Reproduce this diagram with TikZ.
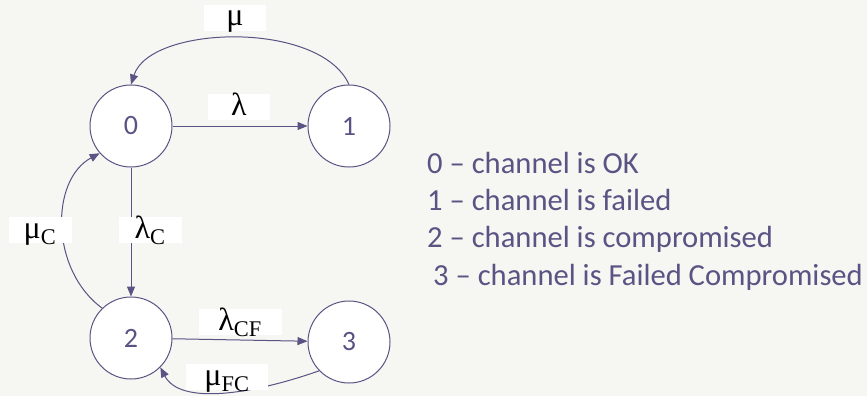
\documentclass[tikz,border=0pt]{standalone}
\usepackage{fontspec}
\setmainfont{Carlito}
\newfontfamily\greekserif{Liberation Serif}
\usetikzlibrary{arrows.meta}
\definecolor{bgc}{HTML}{F6F6F2}
\definecolor{ink}{HTML}{5A5383}
\tikzset{
  state/.style={circle, draw=ink, fill=white, line width=1pt, minimum size=82pt, inner sep=0pt, text=ink, font=\fontsize{28}{28}\selectfont},
  edge/.style={draw=ink, line width=1pt, -{Triangle[length=10pt,width=8pt]}},
  lab/.style={fill=white, inner sep=0pt, text height=21pt, text depth=5pt, text=black, font=\greekserif\fontsize{32}{32}\selectfont},
  legend/.style={anchor=base west, text=ink, inner sep=0pt, font=\fontsize{30.6}{31}\selectfont}
}
\begin{document}
\begin{tikzpicture}[x=1pt,y=-1pt]
\useasboundingbox[fill=bgc] (0,0) rectangle (867,396);
\node[state] (n0) at (131,126) {0};
\node[state] (n1) at (349,126) {1};
\node[state] (n2) at (131,338) {2};
\node[state] (n3) at (349,342) {3};

\draw[edge] (n0) -- (n1);
\draw[edge] (n1.north) .. controls (320,20) and (150,25) .. (n0.north);
\draw[edge] (n0) -- (n2);
\draw[edge] (n2.134) .. controls (50,270) and (50,180) .. (n0.221);
\draw[edge] (n2) -- (n3);
\draw[edge] (n3.224) .. controls (250,395) and (180,405) .. (n2.315);

\node[lab, minimum width=62pt] (lmu) at (235,18) {μ};
\node[lab, minimum width=62pt] (llam) at (239,107) {λ};
\node[lab, minimum width=63pt] (llamc) at (150,230) {λ\textsubscript{C}};
\node[lab, minimum width=63pt] (lmuc) at (40,230) {μ\textsubscript{C}};
\node[lab, minimum width=83pt] (llamcf) at (240,322) {λ\textsubscript{CF}};
\node[lab, minimum width=82pt] (lmufc) at (227,377) {μ\textsubscript{FC}};

\node[legend] (t0) at (427,173) {0 – channel is OK};
\node[legend] (t1) at (427,210) {1 – channel is failed};
\node[legend] (t2) at (427,247) {2 – channel is compromised};
\node[legend] (t3) at (433,285) {3 – channel is Failed Compromised};
\end{tikzpicture}
\end{document}
